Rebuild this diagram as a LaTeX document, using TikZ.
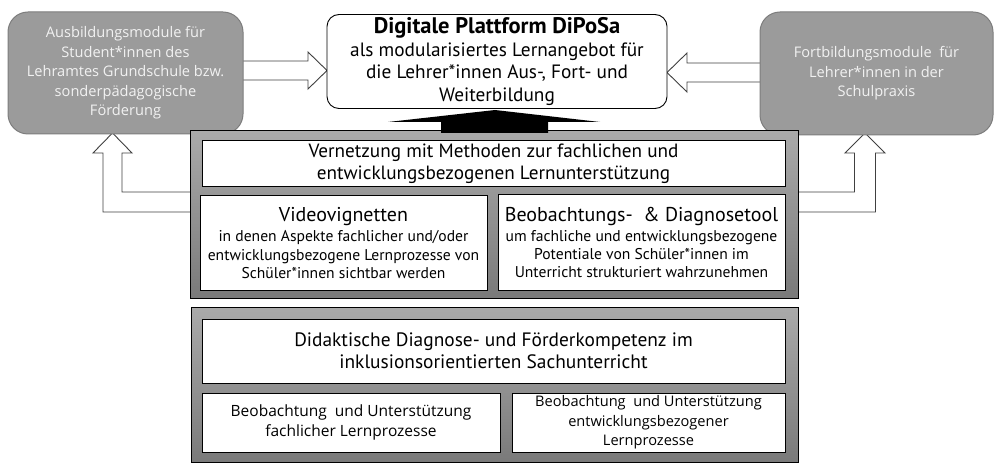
\documentclass[tikz,border=0pt]{standalone}
\usepackage{fontspec}
\setmainfont{PT Sans}
\newfontfamily\segoe{Open Sans}
\definecolor{graybox}{RGB}{155,155,155}
\definecolor{grayboxline}{RGB}{125,125,125}
\definecolor{graytext}{RGB}{242,242,242}
\definecolor{contTop}{RGB}{170,170,170}
\definecolor{contBot}{RGB}{122,122,122}
\definecolor{arrowline}{RGB}{64,64,64}
\tikzset{
  grayrect/.style={draw=grayboxline, line width=1pt, fill=graybox, rounded corners=20pt,
     text=graytext, align=center, inner sep=0pt, font=\segoe\fontsize{14.6}{19.5}\selectfont},
  platform/.style={draw=black, line width=0.9pt, fill=white, rounded corners=12pt,
     align=center, inner sep=0pt},
  container/.style={draw=black, line width=1pt, top color=contTop, bottom color=contBot, inner sep=0pt},
  whitebox/.style={draw=black, line width=1pt, fill=white, align=center, inner sep=0pt},
  blockarrow/.style={draw=arrowline, line width=0.9pt, fill=white, line join=miter},
}
\begin{document}
\begin{tikzpicture}[x=1pt, y=-1pt]
\useasboundingbox (0,0) rectangle (1000,470);

% side block arrows (drawn first, boxes cover their ends)
\coordinate (la0) at (243,61);
\coordinate (ra0) at (760,63);
\draw[blockarrow] (la0) -- (308,61) -- (308,52) -- (327,70.5) -- (308,89) -- (308,80) -- (236,80) -- (236,61) -- cycle;
\draw[blockarrow] (ra0) -- (687,63) -- (687,53) -- (667,72.5) -- (687,92) -- (687,82) -- (767,82) -- (767,63) -- cycle;

% elbow arrows
\draw[blockarrow] (196,192) -- (122,192) -- (122,153) -- (132,153) -- (112.5,133) -- (93,153) -- (103,153) -- (103,212) -- (196,212) -- cycle;
\draw[blockarrow] (792,192) -- (854.5,192) -- (854.5,153) -- (845,153) -- (865,133) -- (885,153) -- (875.5,153) -- (875.5,212) -- (792,212) -- cycle;

% top boxes
\node[grayrect, minimum width=235pt, minimum height=122pt] (aus) at (125.5,73)
  {Ausbildungsmodule für\\Student*innen des\\Lehramtes Grundschule bzw.\\sonderpädagogische\\Förderung};
\node[grayrect, minimum width=233pt, minimum height=123pt] (fort) at (876.5,73.5)
  {Fortbildungsmodule~ für\\Lehrer*innen in der\\Schulpraxis};
\node[platform, minimum width=340pt, minimum height=94pt, font=\fontsize{19.3}{22.5}\selectfont] (plat) at (497,61.5)
  {{\fontsize{22.5}{22.5}\selectfont\bfseries Digitale Plattform DiPoSa}\\als modularisiertes Lernangebot für\\die Lehrer*innen Aus-, Fort- und\\Weiterbildung};

% upper container
\node[container, minimum width=608pt, minimum height=167pt] (upper) at (494,214.5) {};
\node[whitebox, minimum width=583pt, minimum height=46pt, font=\fontsize{19.2}{22}\selectfont] (vern) at (493.5,164)
  {Vernetzung mit Methoden zur fachlichen und\\entwicklungsbezogenen Lernunterstützung};
\node[whitebox, minimum width=287pt, minimum height=94pt, font=\fontsize{15.6}{18.2}\selectfont] (video) at (343.5,243)
  {{\fontsize{20}{18.2}\selectfont Videovignetten}\\[2pt]in denen Aspekte fachlicher und/oder\\entwicklungsbezogene Lernprozesse von\\Schüler*innen sichtbar werden};
\node[whitebox, minimum width=287pt, minimum height=95pt, font=\fontsize{15.6}{18.2}\selectfont] (beob) at (641.5,242.5)
  {{\fontsize{20}{18.2}\selectfont Beobachtungs-~ \& Diagnosetool}\\[2pt]um fachliche und entwicklungsbezogene\\Potentiale von Schüler*innen im\\Unterricht strukturiert wahrzunehmen};

% black arrow
\coordinate (ba0) at (441,133);
\fill[black] (ba0) -- (441,122) -- (388,122) -- (495,110) -- (600,122) -- (548,122) -- (548,133) -- cycle;

% lower container
\node[container, minimum width=607pt, minimum height=155pt] (lower) at (494.5,384.5) {};
\node[whitebox, minimum width=583pt, minimum height=64pt, font=\fontsize{19.4}{22}\selectfont] (did) at (493.5,351)
  {Didaktische Diagnose- und Förderkompetenz im\\inklusionsorientierten Sachunterricht};
\node[whitebox, minimum width=298pt, minimum height=59pt, font=\segoe\fontsize{15.5}{20}\selectfont] (bl) at (351,422.5)
  {Beobachtung~ und Unterstützung\\fachlicher Lernprozesse};
\node[whitebox, minimum width=273pt, minimum height=59pt, font=\segoe\fontsize{14.6}{19.5}\selectfont] (br) at (648.5,422.5)
  {Beobachtung~ und Unterstützung\\entwicklungsbezogener\\Lernprozesse};
\end{tikzpicture}
\end{document}
